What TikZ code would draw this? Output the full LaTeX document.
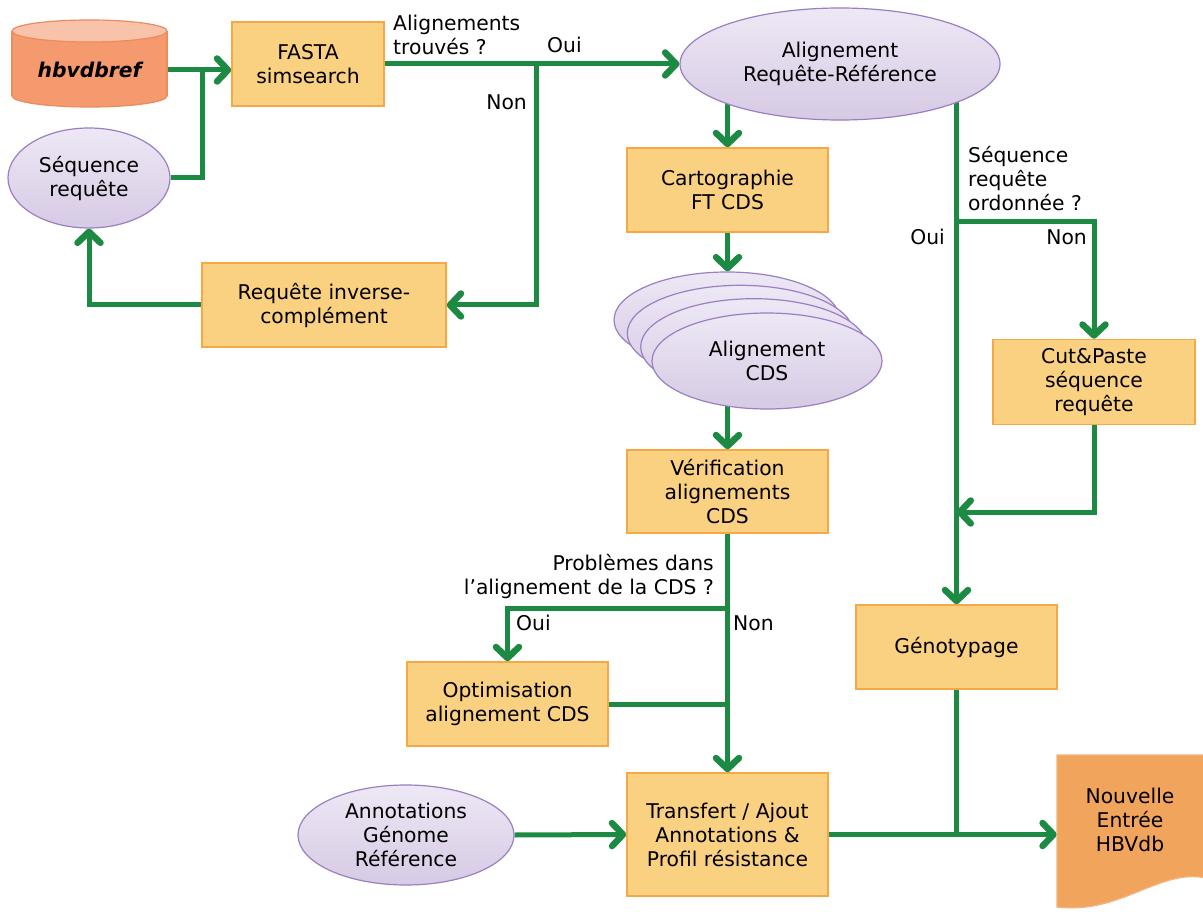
\documentclass[tikz,border=0pt]{standalone}
\usepackage{fontspec}
\setmainfont{DejaVu Sans}
\usetikzlibrary{shapes.geometric,arrows.meta,backgrounds}
\definecolor{gr}{RGB}{28,138,66}
\definecolor{boxfill}{RGB}{249,209,128}
\definecolor{boxdraw}{RGB}{247,168,70}
\definecolor{elltop}{RGB}{238,232,245}
\definecolor{ellbot}{RGB}{214,202,228}
\definecolor{elldraw}{RGB}{155,127,192}
\definecolor{cylbody}{RGB}{244,154,110}
\definecolor{cyltop}{RGB}{248,195,170}
\definecolor{cyldraw}{RGB}{236,140,90}
\definecolor{docfill}{RGB}{240,164,92}
\definecolor{docdraw}{RGB}{243,180,125}
\begin{document}
\begin{tikzpicture}[x=1pt,y=-1pt,
  font=\fontsize{20.3}{24}\selectfont,
  box/.style={rectangle, draw=boxdraw, fill=boxfill, line width=1.5pt, align=center, inner sep=0pt},
  ell/.style={ellipse, draw=elldraw, top color=elltop, bottom color=ellbot, line width=1.2pt, align=center, inner sep=0pt},
  conn/.style={draw=gr, line width=5pt},
  arr/.style={conn, -{Straight Barb[length=11pt,width=23pt,line width=6.5pt,round]}},
  lbl/.style={inner sep=0pt}]
\useasboundingbox (0,0) rectangle (1203,912);

% cylinder hbvdbref
\filldraw[fill=cylbody, draw=cyldraw, line width=1.2pt] (89.5,96) ellipse [x radius=77.5, y radius=11];
\fill[cylbody] (12,31) rectangle (167,96);
\draw[cyldraw, line width=1.2pt] (12,31) -- (12,96) (167,31) -- (167,96);
\filldraw[fill=cyltop, draw=cyldraw, line width=1.2pt] (89.5,31) ellipse [x radius=77.5, y radius=11];
\node[lbl, minimum width=155pt, font=\fontsize{20.3}{24}\selectfont\bfseries\itshape] (db) at (89.5,70) {hbvdbref};

% document shape
\filldraw[fill=docfill, draw=docdraw, line width=1.2pt] (1057,755) -- (1206,755) -- (1206,878)
  .. controls (1160,868) and (1120,915) .. (1057,907) -- cycle;
\node[lbl, minimum width=146pt, align=center] (doc) at (1130,820) {Nouvelle\\Entrée\\HBVdb};

% nodes
\node[box, minimum width=152pt, minimum height=84pt] (fasta) at (308,64) {FASTA\\simsearch};
\node[ell, minimum width=162pt, minimum height=100pt] (seq) at (89,178) {Séquence\\requête};
\node[ell, minimum width=320pt, minimum height=112pt] (aln) at (840,64) {Alignement\\Requête-Référence};
\node[box, minimum width=244pt, minimum height=84pt] (inv) at (324,305) {Requête inverse-\\complément};
\node[box, minimum width=201pt, minimum height=84pt] (cart) at (727.5,190) {Cartographie\\FT CDS};
\node[ell, minimum width=226pt, minimum height=96pt] (acds4) at (727,320) {};
\node[ell, minimum width=226pt, minimum height=96pt] (acds3) at (740.3,333.3) {};
\node[ell, minimum width=226pt, minimum height=96pt] (acds2) at (753.7,346.7) {};
\node[ell, minimum width=230pt, minimum height=96pt] (acds1) at (767,361) {Alignement\\CDS};
\node[box, minimum width=201pt, minimum height=83pt] (verif) at (727.5,491.5) {Vérification\\alignements\\CDS};
\node[box, minimum width=201pt, minimum height=84pt] (optim) at (507.5,704) {Optimisation\\alignement CDS};
\node[box, minimum width=201pt, minimum height=123pt] (trans) at (727.5,834.5) {Transfert / Ajout\\Annotations \&\\Profil résistance};
\node[ell, minimum width=216pt, minimum height=100pt] (annot) at (406,835) {Annotations\\Génome\\Référence};
\node[box, minimum width=202pt, minimum height=85pt] (cut) at (1094,382) {Cut\&Paste\\séquence\\requête};
\node[box, minimum width=201pt, minimum height=84pt] (geno) at (956.5,647) {Génotypage};

% labels
\node[lbl, anchor=north west, align=left] (l1) at (393,15) {Alignements\\trouvés ?};
\node[lbl, anchor=base west] (l2) at (547,53) {Oui};
\node[lbl, anchor=base east] (l3) at (527,110) {Non};
\node[lbl, anchor=north west, align=left] (l4) at (968,146) {Séquence\\requête\\ordonnée ?};
\node[lbl, anchor=base east] (l5) at (945,245) {Oui};
\node[lbl, anchor=base east] (l6) at (1087,245) {Non};
\node[lbl, anchor=north east, align=right] (l7) at (714,554) {Problèmes dans\\l’alignement de la CDS ?};
\node[lbl, anchor=base west] (l8) at (516,630) {Oui};
\node[lbl, anchor=base west] (l9) at (733,630) {Non};

% junctions
\coordinate (j1) at (202,70);
\coordinate (j2) at (536,64);
\coordinate (j3) at (727.5,608);
\coordinate (j5) at (956.5,222);
\coordinate (j6) at (956.5,512);

\begin{pgfonlayer}{background}
\fill[white] (0,0) rectangle (1203,912);
\draw[arr] (db.east) -- (fasta.west |- db.east);
\draw[conn] (seq.east) -| (j1);
\draw[arr] (fasta.east) -- (aln.west);
\draw[arr] (j2) |- (inv.east);
\draw[arr] (inv.west) -| (seq.south);
\draw[arr] (cart.north |- aln.center) -- (cart.north);
\draw[arr] (cart.south) -- (cart.south |- acds4.north);
\draw[arr] (verif.north |- acds1.center) -- (verif.north);
\draw[arr] (verif.south) -- (trans.north);
\draw[arr] (j3) -| (optim.north);
\draw[conn] (optim.east) -- (optim.east -| verif.south);
\draw[arr] (annot.east) -- (trans.west);
\draw[arr] (trans.east) -- (doc.west |- trans.east);
\draw[conn] (geno.south) -- (geno.south |- trans.east);
\draw[arr] (geno.north |- aln.center) -- (geno.north);
\draw[arr] (j5) -| (cut.north);
\draw[arr] (cut.south) |- (j6);
\end{pgfonlayer}
\end{tikzpicture}
\end{document}
